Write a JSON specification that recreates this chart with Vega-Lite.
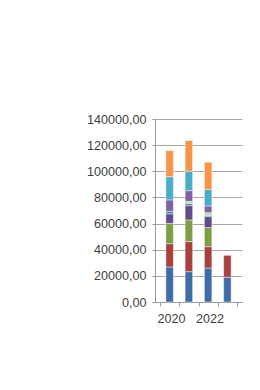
{
  "$schema": "https://vega.github.io/schema/vega-lite/v6.json",
  "autosize": "none",
  "width": 87,
  "height": 183,
  "padding": {"left": 155, "top": 119, "right": 18, "bottom": 88},
  "background": "#ffffff",
  "config": {
    "view": {"stroke": null},
    "font": "Liberation Sans",
    "axis": {"labelFont": "Liberation Sans", "labelFontSize": 12.6, "labelColor": "#404040", "domainColor": "#9a9a9a", "tickColor": "#9a9a9a"}
  },
  "data": {
    "values": [
      {"year": 2020, "series": "S1", "ord": 1, "value": 26800},
      {"year": 2020, "series": "S2", "ord": 2, "value": 17800},
      {"year": 2020, "series": "S3", "ord": 3, "value": 15600},
      {"year": 2020, "series": "S4", "ord": 4, "value": 7300},
      {"year": 2020, "series": "S5", "ord": 5, "value": 1900},
      {"year": 2020, "series": "S7", "ord": 7, "value": 8700},
      {"year": 2020, "series": "S8", "ord": 8, "value": 17800},
      {"year": 2020, "series": "S9", "ord": 9, "value": 19900},
      {"year": 2021, "series": "S1", "ord": 1, "value": 23200},
      {"year": 2021, "series": "S2", "ord": 2, "value": 23000},
      {"year": 2021, "series": "S3", "ord": 3, "value": 16600},
      {"year": 2021, "series": "S4", "ord": 4, "value": 10900},
      {"year": 2021, "series": "S5", "ord": 5, "value": 1600},
      {"year": 2021, "series": "S6", "ord": 6, "value": 1700},
      {"year": 2021, "series": "S7", "ord": 7, "value": 8200},
      {"year": 2021, "series": "S8", "ord": 8, "value": 14800},
      {"year": 2021, "series": "S9", "ord": 9, "value": 23500},
      {"year": 2022, "series": "S1", "ord": 1, "value": 26000},
      {"year": 2022, "series": "S2", "ord": 2, "value": 16300},
      {"year": 2022, "series": "S3", "ord": 3, "value": 14600},
      {"year": 2022, "series": "S4", "ord": 4, "value": 8400},
      {"year": 2022, "series": "S5", "ord": 5, "value": 1000},
      {"year": 2022, "series": "S6", "ord": 6, "value": 2100},
      {"year": 2022, "series": "S7", "ord": 7, "value": 5100},
      {"year": 2022, "series": "S8", "ord": 8, "value": 12700},
      {"year": 2022, "series": "S9", "ord": 9, "value": 20700},
      {"year": 2023, "series": "S1", "ord": 1, "value": 18900},
      {"year": 2023, "series": "S2", "ord": 2, "value": 16800}
    ]
  },
  "mark": {"type": "bar", "size": 7.5, "stroke": "#ffffff", "strokeWidth": 0.8, "strokeOpacity": 0.55},
  "encoding": {
    "x": {
      "field": "year", "type": "quantitative",
      "scale": {"domain": [2019.5, 2023.5], "nice": false, "zero": false},
      "axis": {
        "title": null, "grid": false,
        "values": [2019.5, 2020.5, 2021.5, 2022.5, 2023.5],
        "labelExpr": "datum.value == 2019.5 ? '2020' : (datum.value == 2021.5 ? '2022' : '')",
        "labelOffset": 10.9, "labelAlign": "center", "labelOverlap": false, "labelFlush": false, "labelBound": false,
        "tickSize": 4, "labelPadding": 6
      }
    },
    "y": {
      "field": "value", "type": "quantitative", "stack": "zero",
      "scale": {"domain": [0, 140000], "nice": false},
      "axis": {
        "title": null,
        "values": [0, 20000, 40000, 60000, 80000, 100000, 120000, 140000],
        "labelExpr": "replace(format(datum.value, '.2f'), '.', ',')",
        "grid": true, "gridColor": "#a6a6a6", "gridWidth": 1,
        "tickSize": 3, "labelPadding": 6
      }
    },
    "color": {
      "field": "series", "type": "nominal", "legend": null,
      "scale": {
        "domain": ["S1", "S2", "S3", "S4", "S5", "S6", "S7", "S8", "S9"],
        "range": ["#406ca6", "#a8403e", "#7e9d46", "#614b88", "#2c8ca6", "#c0d890", "#7f63a1", "#4aadc8", "#f79446"]
      }
    },
    "order": {"field": "ord", "type": "quantitative"}
  }
}
